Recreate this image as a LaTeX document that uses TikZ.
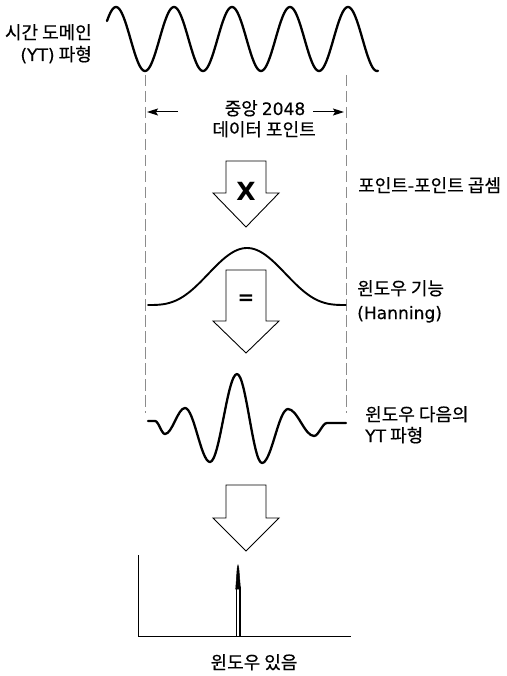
\documentclass[tikz,border=0pt]{standalone}
\usepackage{fontspec}
\setmainfont{Noto Sans CJK KR}[FakeBold=0.5]
\newfontfamily\lat{DejaVu Sans}[Scale=0.95,FakeBold=0.4]
\newfontfamily\latb{DejaVu Sans Bold}
\usetikzlibrary{arrows.meta}
\tikzset{
  wave/.style={line width=2.3pt, line join=round, line cap=round},
  hann/.style={line width=1.9pt, line join=round, line cap=round},
  blockarrow/.style={draw=black, fill=white, line width=0.9pt, line join=miter},
  guide/.style={draw=black!45, line width=0.9pt, dash pattern=on 11.5pt off 4.5pt},
  lbl/.style={inner sep=0pt, font=\fontsize{18}{20}\selectfont},
  dimarrow/.style={line width=1pt, -{Stealth[length=11pt,width=7pt,inset=2pt]}},
  axisline/.style={line width=0.9pt},
}
\begin{document}
\begin{tikzpicture}[x=1pt,y=-1pt]
\useasboundingbox[fill=white] (0,0) rectangle (506,676);

% time-domain waveform
\draw[wave] plot[domain=107:378, samples=240] (\x, {39+32*cos(6.2069*(\x-145))});

% guide lines
\coordinate (gLt) at (145,75); \coordinate (gLb) at (145,413);
\coordinate (gRt) at (346,75); \coordinate (gRb) at (346,413);
\draw[guide] (gLt) -- (gLb);
\draw[guide] (gRt) -- (gRb);

% left label
\node[lbl, anchor=base east] (tdl1) at (92,39) {시간 도메인};
\node[lbl, anchor=base east] (tdl2) at (92,61) {{\lat (YT)} 파형};

% data points label and arrows
\node[lbl, anchor=base] (mid1) at (265,115) {중앙 {\lat 2048}};
\node[lbl, anchor=base] (mid2) at (264,136) {데이터 포인트};
\coordinate (dLtail) at (178,112); \coordinate (dLtip) at (147,112);
\coordinate (dRtail) at (313,112); \coordinate (dRtip) at (344,112);
\draw[dimarrow] (dLtail) -- (dLtip);
\draw[dimarrow] (dRtail) -- (dRtip);

% block arrow 1 (X)
\draw[blockarrow] (226,161) -- (266,161) -- (266,193) -- (279,193) -- (246,227) -- (213,193) -- (226,193) -- cycle;
\node[inner sep=0pt, font=\latb\fontsize{25}{25}\selectfont] (xsym) at (246,191) {X};
\node[lbl, anchor=base west] (rl1) at (358,192) {포인트-포인트 곱셈};

% Hanning window
\draw[hann] plot[domain=0:1, samples=120] ({148+198*\x}, {305-57*sin(180*\x)*sin(180*\x)*sin(180*\x)});
\node[lbl, anchor=base west] (rl2) at (357,295) {윈도우 기능};
\node[lbl, anchor=base west] (rl3) at (357,319) {{\lat (Hanning)}};

% block arrow 2 (=)
\draw[blockarrow] (226,270) -- (266,270) -- (266,321) -- (279,321) -- (246,353) -- (213,321) -- (226,321) -- cycle;
\node[inner sep=0pt, font=\latb\fontsize{20}{20}\selectfont] (eqsym) at (246,300) {=};

% windowed waveform
\draw[wave] (148,421) -- (155,421)
  .. controls (158.6,421) and (161.4,434) .. (165,434)
  .. controls (172.2,434) and (177.8,408) .. (185,408)
  .. controls (194,408) and (201,462) .. (210,462)
  .. controls (219.7,462) and (227.3,374) .. (237,374)
  .. controls (246,374) and (253,463) .. (262,463)
  .. controls (271.4,463) and (278.6,409) .. (288,409)
  .. controls (297.4,409) and (304.6,436) .. (314,436)
  .. controls (318.7,436) and (322.3,423) .. (327,423)
  -- (346,423);
\node[lbl, anchor=base west] (rl4) at (365,421) {윈도우 다음의};
\node[lbl, anchor=base west] (rl5) at (365,442) {{\lat YT} 파형};

% block arrow 3
\draw[blockarrow] (226,485) -- (266,485) -- (266,518) -- (279,518) -- (246,551) -- (213,518) -- (226,518) -- cycle;

% spectrum
\draw[axisline] (138,555) -- (138,636) -- (351,636);
\draw[line width=1.3pt] (236.3,636) -- (236.3,587);
\draw[line width=1.3pt] (239.9,636) -- (239.9,587);
\filldraw[line width=0.5pt] (235.7,589) -- (237.2,568) -- (238,565) -- (238.8,568) -- (240.5,589) -- cycle;
\node[lbl, anchor=base] (spec) at (254,669) {윈도우 있음};
\end{tikzpicture}
\end{document}
